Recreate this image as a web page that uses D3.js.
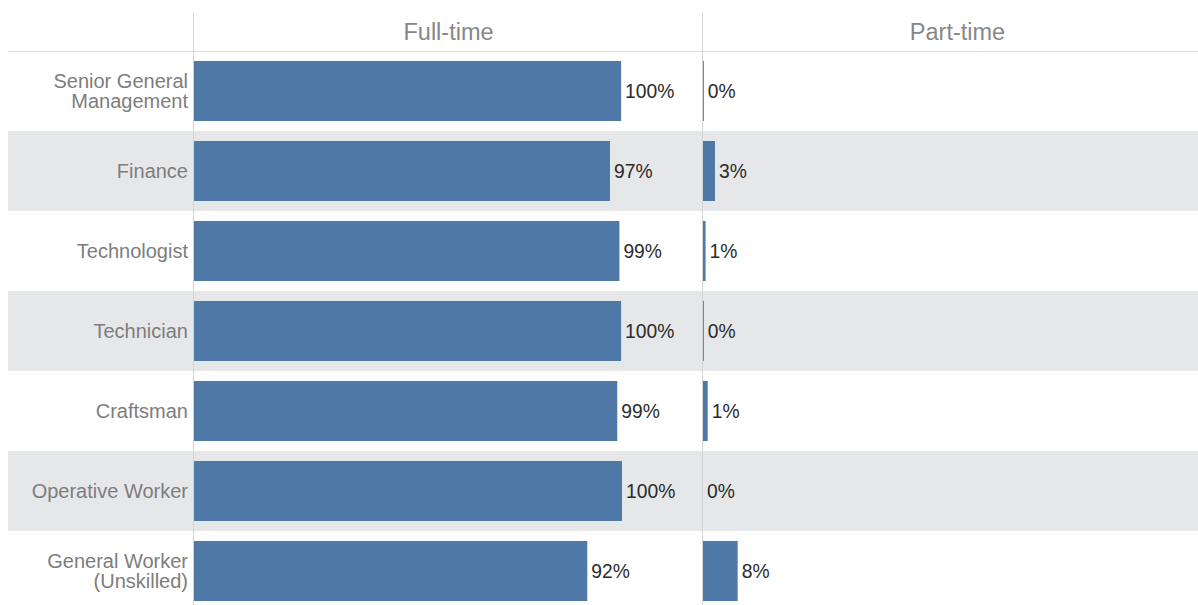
<!DOCTYPE html>
<html>
<head>
<meta charset="utf-8">
<script src="https://cdn.jsdelivr.net/npm/d3@7"></script>
<style>
  html, body { margin: 0; padding: 0; background: #fff; }
  svg { display: block; font-family: "Liberation Sans", Arial, Helvetica, sans-serif; }
</style>
</head>
<body>
<svg id="chart" width="1198" height="605"></svg>
<script>
// Employment type share by occupational level
const categories = [
  "Senior General Management",
  "Finance",
  "Technologist",
  "Technician",
  "Craftsman",
  "Operative Worker",
  "General Worker (Unskilled)"
];
const panels = ["Full-time", "Part-time"];
const fullTime = [0.998, 0.972, 0.994, 0.998, 0.989, 1.000, 0.919];
const partTime = [0.002, 0.028, 0.006, 0.002, 0.011, 0.000, 0.081];
const seriesValues = [fullTime, partTime];

const W = 1198, H = 605;
const left = 8;          // left edge of row bands
const labelRight = 188;  // right edge of category labels
const headerTop = 13, headerBottom = 51;
const rowH = 80, barPad = 10;
const panelX = [193, 702];
const panelW = 509;

const svg = d3.select("#chart");

const y = d3.scaleBand()
  .domain(categories)
  .range([headerBottom, headerBottom + rowH * categories.length])
  .paddingInner(0).paddingOuter(0);

const x = d3.scaleLinear().domain([0, 1.187]).range([0, panelW - 1]);
const fmt = d3.format(".0%");

// alternating row bands
svg.append("g").selectAll("rect")
  .data(categories.filter((d, i) => i % 2 === 1))
  .join("rect")
  .attr("x", left).attr("width", W - left)
  .attr("y", d => y(d)).attr("height", y.bandwidth())
  .attr("fill", "#e6e7e9");

// header rule
svg.append("line")
  .attr("x1", left).attr("x2", W)
  .attr("y1", headerBottom + 0.5).attr("y2", headerBottom + 0.5)
  .attr("stroke", "#d9d9d9").attr("stroke-width", 1);

// panel separators
svg.append("g").selectAll("line")
  .data(panelX)
  .join("line")
  .attr("x1", d => d + 0.5).attr("x2", d => d + 0.5)
  .attr("y1", headerTop).attr("y2", H)
  .attr("stroke", "#d4d4d4").attr("stroke-width", 1);

// panel titles
svg.append("g").selectAll("text")
  .data(panels)
  .join("text")
  .attr("x", (d, i) => panelX[i] + 1 + panelW / 2)
  .attr("y", 40)
  .attr("text-anchor", "middle")
  .attr("font-size", 23.5)
  .attr("fill", "#878787")
  .text(d => d);

// category labels, wrapped to fit the label column
const catFont = 20, lineH = 20.5, maxLabelW = 180;
const catG = svg.append("g");
categories.forEach(cat => {
  const words = cat.split(" ");
  const probe = catG.append("text").attr("font-size", catFont);
  const lines = [];
  let cur = [];
  words.forEach(w => {
    const test = cur.concat(w).join(" ");
    probe.text(test);
    if (cur.length && probe.node().getComputedTextLength() > maxLabelW) {
      lines.push(cur.join(" "));
      cur = [w];
    } else {
      cur.push(w);
    }
  });
  lines.push(cur.join(" "));
  probe.remove();
  const cy = y(cat) + y.bandwidth() / 2;
  const capHalf = catFont * 0.36;
  const t = catG.append("text")
    .attr("text-anchor", "end")
    .attr("font-size", catFont)
    .attr("fill", "#7d7d7d");
  lines.forEach((ln, i) => {
    t.append("tspan")
      .attr("x", labelRight)
      .attr("y", cy + capHalf + (i - (lines.length - 1) / 2) * lineH)
      .text(ln);
  });
});

// bars and value labels per panel
panels.forEach((p, pi) => {
  const x0 = panelX[pi] + 1;
  const vals = seriesValues[pi];
  const g = svg.append("g").attr("transform", `translate(${x0},0)`);
  g.selectAll("rect")
    .data(categories)
    .join("rect")
    .attr("x", 0)
    .attr("y", d => y(d) + barPad)
    .attr("width", (d, i) => x(vals[i]))
    .attr("height", y.bandwidth() - 2 * barPad)
    .attr("fill", "#4e79a7");
  g.selectAll("text")
    .data(categories)
    .join("text")
    .attr("x", (d, i) => x(vals[i]) + 4)
    .attr("y", d => y(d) + y.bandwidth() / 2 + 19.3 * 0.36)
    .attr("font-size", 19.3)
    .attr("fill", "#2b2b2b")
    .text((d, i) => fmt(vals[i]));
});
</script>
</body>
</html>
